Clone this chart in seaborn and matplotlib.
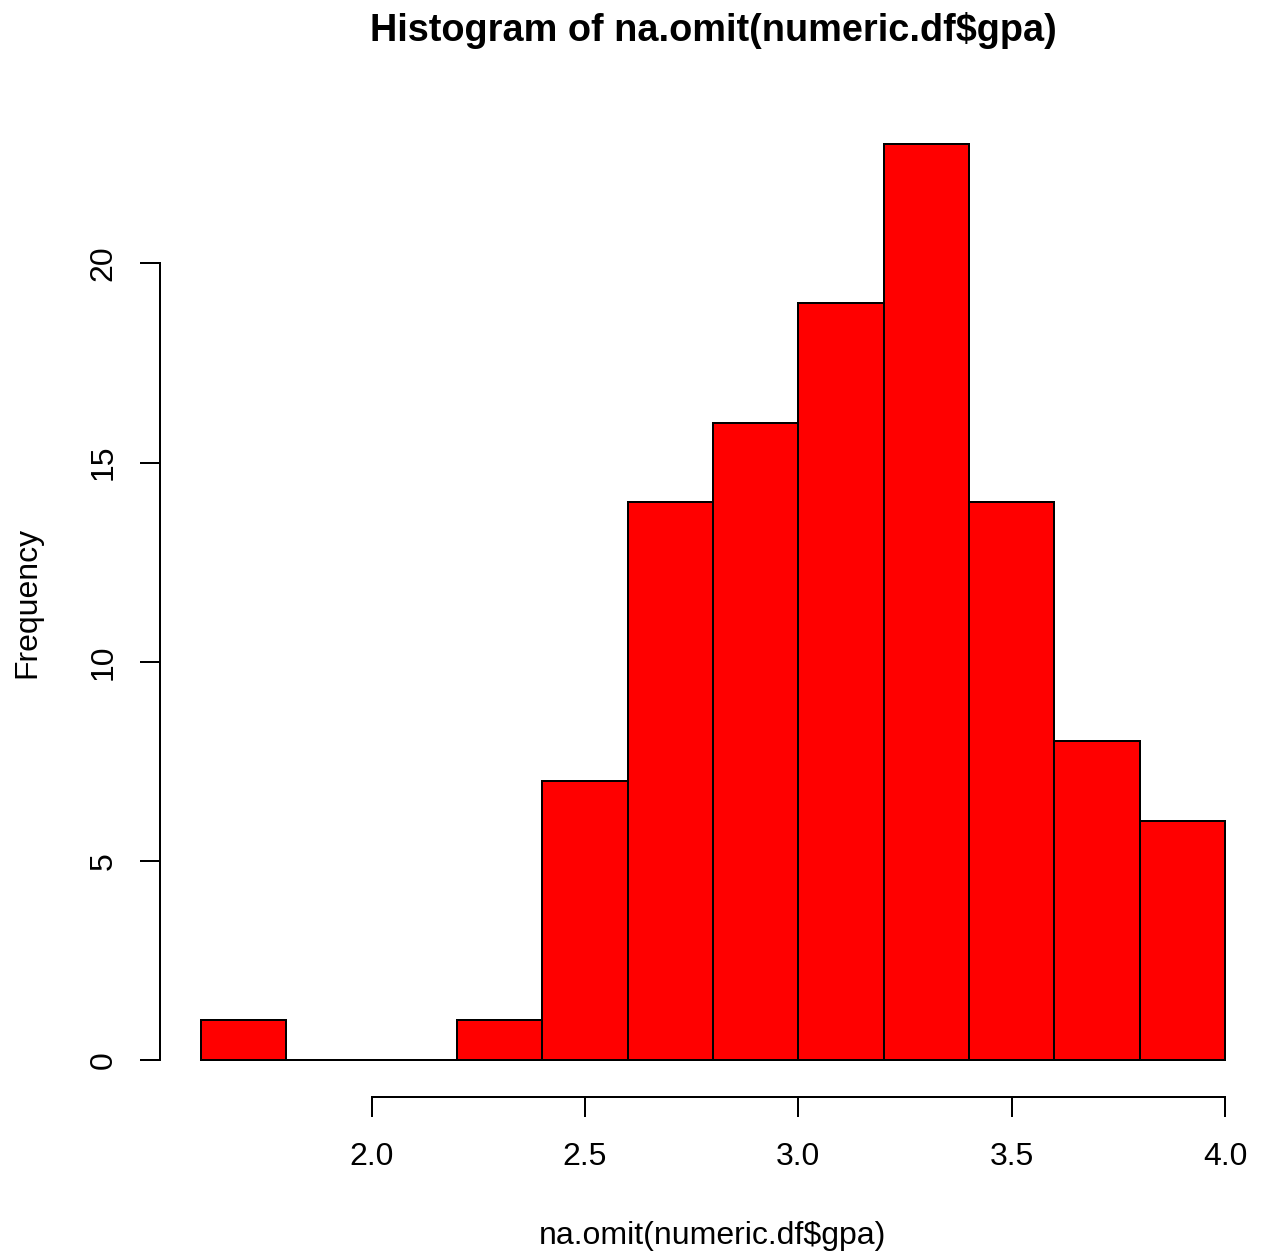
import numpy as np
import matplotlib
matplotlib.use("Agg")
import matplotlib.pyplot as plt
import seaborn as sns

# histogram of gpa, bins of width 0.2
breaks = [1.6, 1.8, 2.0, 2.2, 2.4, 2.6, 2.8, 3.0, 3.2, 3.4, 3.6, 3.8, 4.0]
counts = [1, 0, 0, 1, 7, 14, 16, 19, 23, 14, 8, 6]
x_ticks = [2.0, 2.5, 3.0, 3.5, 4.0]
y_ticks = [0, 5, 10, 15, 20]

sns.set_style("ticks")
plt.rcParams['font.family'] = ['Liberation Sans', 'DejaVu Sans']
plt.rcParams['text.color'] = 'black'

W, H, DPI = 1263, 1254, 192
fig = plt.figure(figsize=(W / DPI, H / DPI), dpi=DPI)
ax = fig.add_axes([160 / W, (H - 1097) / H, (1266 - 160) / W, 990 / H])

centers = (np.array(breaks[:-1]) + np.array(breaks[1:])) / 2
sns.histplot(x=centers, weights=counts, bins=breaks, color="#FF0000",
             edgecolor="black", linewidth=0.75, alpha=1, ax=ax)

# R style: 4% extension of data range
rng = breaks[-1] - breaks[0]
ax.set_xlim(breaks[0] - 0.04 * rng, breaks[-1] + 0.04 * rng)
ax.set_ylim(-0.04 * max(counts), max(counts) * 1.04)

ax.set_xticks(x_ticks)
ax.set_xticklabels([f"{t:.1f}" for t in x_ticks])
ax.set_yticks(y_ticks)
ax.set_yticklabels([str(t) for t in y_ticks], rotation=90, va="center")

for s in ["top", "right"]:
    ax.spines[s].set_visible(False)
ax.spines["left"].set_bounds(0, 20)
ax.spines["bottom"].set_bounds(2.0, 4.0)
for s in ["left", "bottom"]:
    ax.spines[s].set_linewidth(0.75)
    ax.spines[s].set_color("black")

ax.tick_params(direction="out", length=7.5, width=0.75, labelsize=12, colors="black")
ax.tick_params(axis="x", pad=9.5)
ax.tick_params(axis="y", pad=8)
ax.set_xlabel("")
ax.set_ylabel("")

fig.text(713 / W, 1 - 41 / H, r"Histogram of na.omit(numeric.df\$gpa)",
         ha="center", va="baseline", fontsize=14.2, fontweight="bold", color="black")
fig.text(713 / W, 1 - 1244 / H, r"na.omit(numeric.df\$gpa)",
         ha="center", va="baseline", fontsize=12, color="black")
fig.text(27 / W, 1 - 602 / H, "Frequency", rotation=90,
         ha="center", va="center", fontsize=12, color="black")

fig.savefig("out.png", dpi=DPI, facecolor="white")
